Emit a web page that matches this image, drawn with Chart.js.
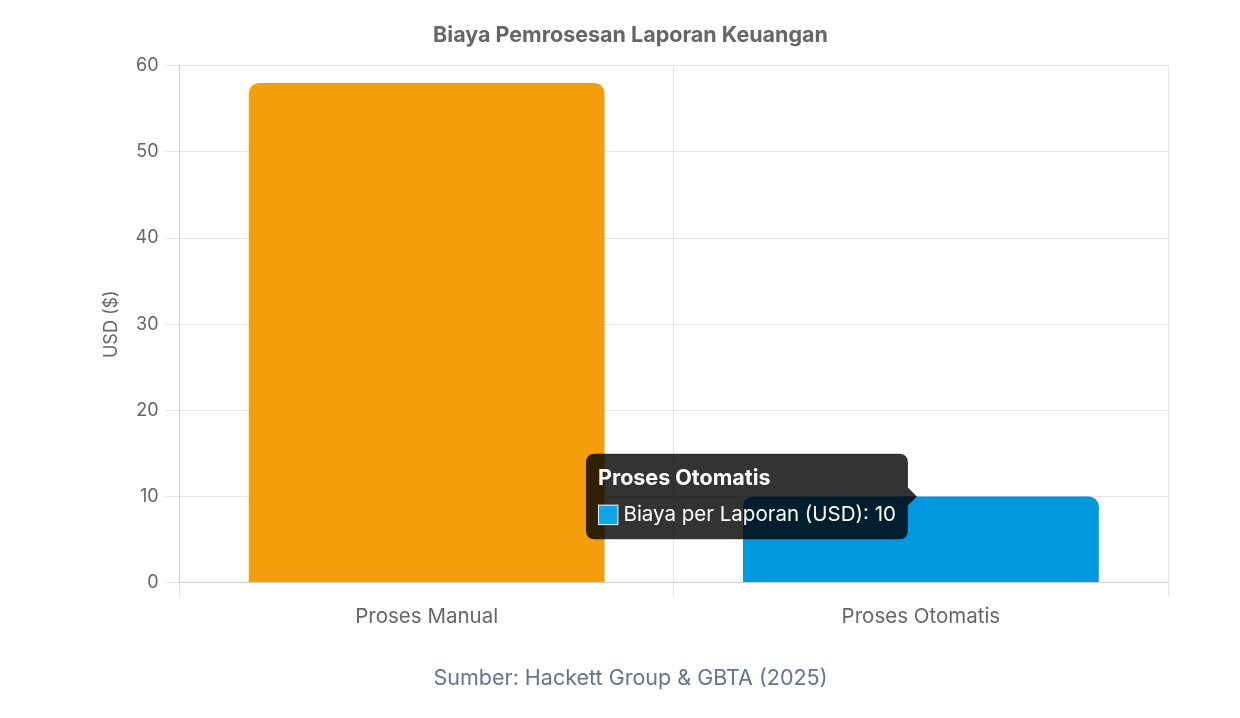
<!DOCTYPE html>
<html>
<head>
<meta charset="utf-8">
<script src="https://cdn.jsdelivr.net/npm/chart.js@4"></script>
<style>
  html, body { margin: 0; padding: 0; background: #ffffff; }
  #wrap { width: 1240px; height: 718px; position: relative; }
</style>
</head>
<body>
<div id="wrap"><canvas id="c"></canvas></div>
<script>
const categories = ['Proses Manual', 'Proses Otomatis'];
const costValues = [58, 10];
const seriesLabel = 'Biaya per Laporan (USD)';
const barColors = ['#F59E0B', '#0EA5E9'];
const yTicks = { min: 0, max: 60, step: 10 };
const chartTitle = 'Biaya Pemrosesan Laporan Keuangan';
const sourceNote = 'Sumber: Hackett Group & GBTA (2025)';
const yAxisTitle = 'USD ($)';

Chart.defaults.font.family = 'Inter, "Liberation Sans", sans-serif';
Chart.defaults.color = '#666';

Chart.Tooltip.positioners.barTop = function (elements) {
  if (!elements.length) return false;
  const el = elements[0].element;
  return { x: el.x, y: el.y };
};

const chart = new Chart(document.getElementById('c'), {
  type: 'bar',
  data: {
    labels: categories,
    datasets: [{
      label: seriesLabel,
      data: costValues,
      backgroundColor: barColors,
      borderRadius: 10,
      borderSkipped: 'start'
    }]
  },
  options: {
    responsive: true,
    maintainAspectRatio: false,
    animation: false,
    events: [],
    layout: { padding: { left: 93, right: 72, top: 6, bottom: 27 } },
    scales: {
      x: {
        grid: { tickLength: 14 },
        ticks: { font: { size: 20.5 }, padding: 8 }
      },
      y: {
        min: yTicks.min,
        max: yTicks.max,
        grid: { tickLength: 14 },
        ticks: { stepSize: yTicks.step, font: { size: 18 }, padding: 7 },
        title: { display: true, text: yAxisTitle, font: { size: 18 }, padding: { top: 8, bottom: 6 } }
      }
    },
    plugins: {
      legend: { display: false },
      title: {
        display: true,
        text: chartTitle,
        font: { size: 21.5, weight: 'bold' },
        color: '#666',
        padding: { top: 17, bottom: 17 }
      },
      subtitle: {
        display: true,
        position: 'bottom',
        text: sourceNote,
        font: { size: 21.5 },
        color: '#64748b',
        padding: { top: 28, bottom: 0 }
      },
      tooltip: {
        position: 'barTop',
        titleFont: { size: 21.5, weight: 'bold' },
        bodyFont: { size: 20.5 },
        padding: 12,
        titleMarginBottom: 11,
        caretSize: 9,
        caretPadding: 4,
        cornerRadius: 9,
        boxPadding: 3
      }
    }
  }
});

const active = [{ datasetIndex: 0, index: 1 }];
chart.setActiveElements(active);
const el = chart.getDatasetMeta(0).data[1];
chart.tooltip.setActiveElements(active, { x: el.x, y: el.y });
chart.update();
</script>
</body>
</html>
